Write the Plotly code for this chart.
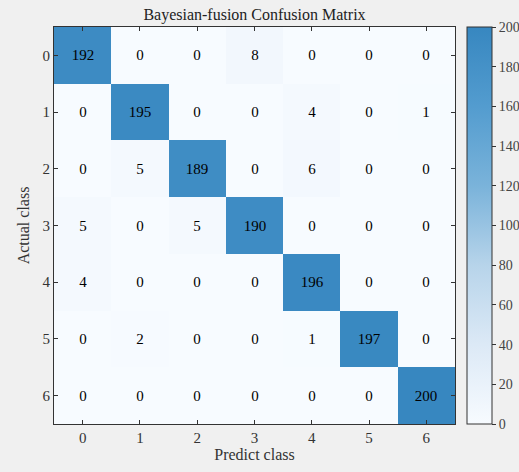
import plotly.graph_objects as go

classes = ["0", "1", "2", "3", "4", "5", "6"]
matrix = [
    [192, 0, 0, 8, 0, 0, 0],
    [0, 195, 0, 0, 4, 0, 1],
    [0, 5, 189, 0, 6, 0, 0],
    [5, 0, 5, 190, 0, 0, 0],
    [4, 0, 0, 0, 196, 0, 0],
    [0, 2, 0, 0, 1, 197, 0],
    [0, 0, 0, 0, 0, 0, 200],
]
colorbar_ticks = [0, 20, 40, 60, 80, 100, 120, 140, 160, 180, 200]

colorscale = [
    [0.0, "#f7fbff"],
    [0.2, "#dce9f6"],
    [0.4, "#b7d4ea"],
    [0.5, "#98c3e2"],
    [0.6, "#7ab3da"],
    [0.8, "#539ccf"],
    [1.0, "#3787c0"],
]

font_family = "Liberation Serif, Times New Roman, serif"

fig = go.Figure(
    go.Heatmap(
        z=matrix,
        x=classes,
        y=classes,
        zmin=0,
        zmax=200,
        colorscale=colorscale,
        text=matrix,
        texttemplate="%{text}",
        textfont=dict(family=font_family, size=15, color="black"),
        xgap=0,
        ygap=0,
        colorbar=dict(
            x=(467 - 54) / 401,
            xanchor="left",
            y=0,
            yanchor="bottom",
            len=1,
            lenmode="fraction",
            thickness=25,
            thicknessmode="pixels",
            outlinecolor="#333333",
            outlinewidth=1,
            tickvals=colorbar_ticks,
            ticks="outside",
            ticklen=4,
            tickcolor="#333333",
            tickfont=dict(family=font_family, size=14, color="#444444"),
            xpad=0,
            ypad=0,
        ),
    )
)

fig.update_layout(
    width=519,
    height=472,
    margin=dict(l=54, r=64, t=27, b=48, autoexpand=False),
    paper_bgcolor="#f0f0f0",
    plot_bgcolor="white",
    font=dict(family=font_family, size=13, color="#333333"),
    title=dict(
        text="Bayesian-fusion Confusion Matrix",
        x=0.5,
        xref="paper",
        xanchor="center",
        y=1 - 14 / 472,
        yanchor="middle",
        font=dict(family=font_family, size=16, color="#222222"),
    ),
)

fig.update_xaxes(
    title=dict(text="Predict class", font=dict(size=16), standoff=2),
    ticks="inside",
    ticklen=4,
    tickcolor="#333333",
    mirror="ticks",
    showline=True,
    linecolor="#333333",
    linewidth=1,
    showgrid=False,
    zeroline=False,
    tickfont=dict(size=15),
)
fig.update_yaxes(
    title=dict(text="Actual class", font=dict(size=16), standoff=8),
    autorange="reversed",
    ticks="inside",
    ticklen=4,
    tickcolor="#333333",
    mirror="ticks",
    showline=True,
    linecolor="#333333",
    linewidth=1,
    showgrid=False,
    zeroline=False,
    tickfont=dict(size=15),
)

fig.write_html(
    "out.html",
    config={"displayModeBar": False},
    post_script="document.body.style.margin='0';document.body.style.overflow='hidden';",
)
